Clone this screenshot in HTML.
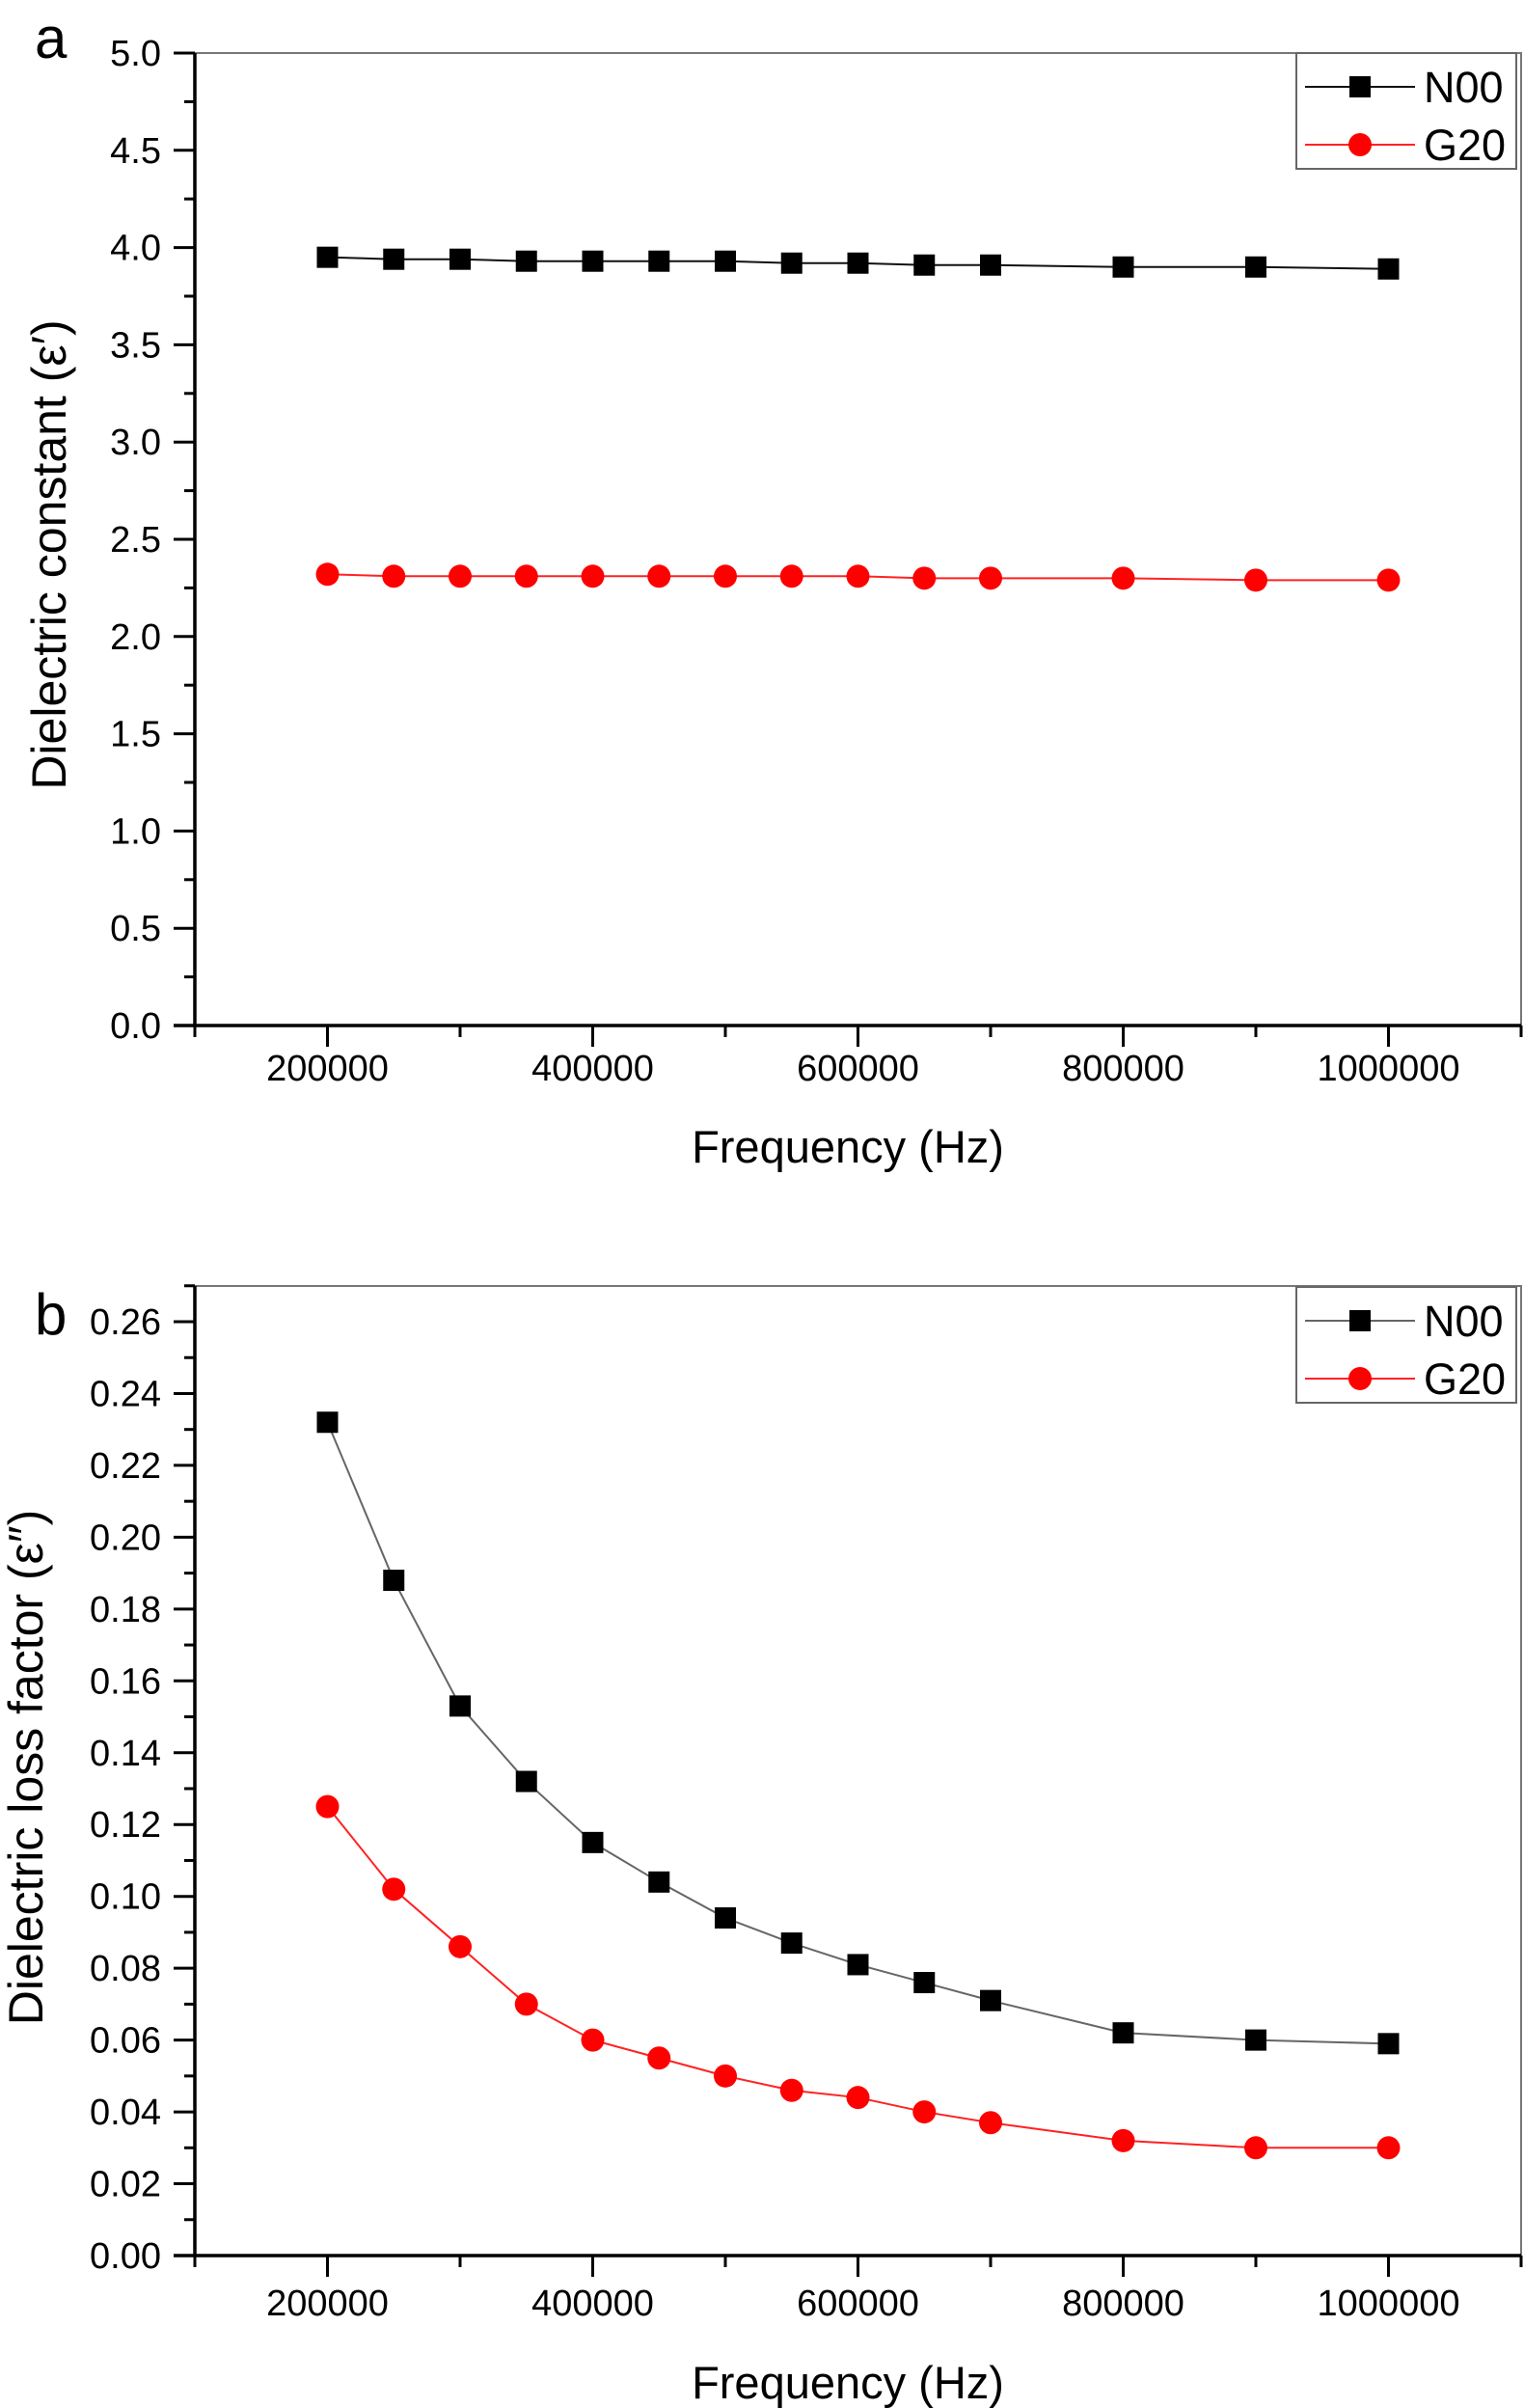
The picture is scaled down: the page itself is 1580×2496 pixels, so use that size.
<!DOCTYPE html>
<html><head><meta charset="utf-8"><style>
html,body{margin:0;padding:0;background:#fff;}
svg{display:block;font-family:"Liberation Sans",Arial,sans-serif;}
</style></head><body>
<svg id="chart" width="1580" height="2496" viewBox="0 0 1580 2496" xmlns="http://www.w3.org/2000/svg"></svg>
<script>
const freqs = [200000,250000,300000,350000,400000,450000,500000,550000,600000,650000,700000,800000,900000,1000000];
const aN00 = [3.95,3.94,3.94,3.93,3.93,3.93,3.93,3.92,3.92,3.91,3.91,3.90,3.90,3.89];
const aG20 = [2.32,2.31,2.31,2.31,2.31,2.31,2.31,2.31,2.31,2.30,2.30,2.30,2.29,2.29];
const bN00 = [0.232,0.188,0.153,0.132,0.115,0.104,0.094,0.087,0.081,0.076,0.071,0.062,0.060,0.059];
const bG20 = [0.125,0.102,0.086,0.070,0.060,0.055,0.050,0.046,0.044,0.040,0.037,0.032,0.030,0.030];
const xTickLabels = ["200000","400000","600000","800000","1000000"];
const aYTicks = ["0.0","0.5","1.0","1.5","2.0","2.5","3.0","3.5","4.0","4.5","5.0"];
const bYTicks = ["0.00","0.02","0.04","0.06","0.08","0.10","0.12","0.14","0.16","0.18","0.20","0.22","0.24","0.26"];

const svg = document.getElementById('chart');
const NS = 'http://www.w3.org/2000/svg';
function mk(tag, attrs, parent){
  const e = document.createElementNS(NS, tag);
  for (const k in attrs) e.setAttribute(k, attrs[k]);
  (parent||svg).appendChild(e);
  return e;
}
function txt(s, attrs, parent){ const t = mk('text', attrs, parent); t.textContent = s; return t; }

function panel(cfg){
  const g = mk('g', {});
  
  
  const L=202, R=1577, T=cfg.top, B=cfg.bottom;
  const xs = v => L + (v - 100000) / 1000000 * (R - L);
  const yS = v => B + (v - cfg.ymin) / (cfg.ymax - cfg.ymin) * (cfg.yTopPx - B);
  const fr = mk('path', {d:`M${L},${T} H${R} V${B}`, fill:'none', stroke:'#777', 'stroke-width':2}, g);
  
  
  const ax = mk('g', {}, g);
  
  
  mk('line', {x1:L, y1:T, x2:L, y2:B, stroke:'#000','stroke-width':3.5}, ax);
  const xa = mk('g', {}, g);
  
  
  mk('line', {x1:L-22, y1:B, x2:R, y2:B, stroke:'#000','stroke-width':3.5}, xa);
  for (let f = 100000; f <= 1100000; f += 100000){
    const major = (f/100000) % 2 === 0;
    mk('line', {x1:xs(f), y1:B, x2:xs(f), y2:B + (major?22:12), stroke:'#000','stroke-width':3}, xa);
  }
  xTickLabels.forEach(s => {
    const t = txt(s, {x:xs(+s), y:cfg.xLabelY, 'text-anchor':'middle','font-size':38}, xa);
    
    
  });
  cfg.yTicks.forEach((s,i) => {
    const y = yS(+s);
    mk('line', {x1:L-22, y1:y, x2:L, y2:y, stroke:'#000','stroke-width':3}, ax);
    const ym = yS(+s + cfg.step/2);
    if (ym >= T - 1) mk('line', {x1:L-11, y1:ym, x2:L, y2:ym, stroke:'#000','stroke-width':3}, ax);
    const t = txt(s, {x:167, y:y+13, 'text-anchor':'end','font-size':38}, ax);
    
    
  });
  const xt = txt('Frequency (Hz)', {x:879, y:cfg.xTitleY, 'text-anchor':'middle','font-size':47}, g);
  
  
  const yt = txt(cfg.yTitle, {x:0, y:0, 'text-anchor':'middle','font-size':50, transform:`translate(${cfg.yTitleX},${cfg.yTitleY}) rotate(-90)`}, g);
  
  
  const lt = txt(cfg.letter, {x:36, y:cfg.letterY, 'font-size':60}, g);
  
  
  const series = [
    {vals:cfg.n00, color:cfg.lineN, mark:'square', name:'N00'},
    {vals:cfg.g20, color:'#f22', mark:'circle', name:'G20'}
  ];
  series.forEach(s => {
    const sg = mk('g', {}, g);
    
    
    const pts = freqs.map((f,i) => [xs(f), yS(s.vals[i])]);
    const pl = mk('polyline', {points: pts.map(p=>p.join(',')).join(' '), fill:'none', stroke:s.color,'stroke-width':2}, sg);
    
    
    pts.forEach(p => {
      let m;
      if (s.mark === 'square') m = mk('rect', {x:p[0]-11, y:p[1]-11, width:22, height:22, fill:'#000'}, sg);
      else m = mk('circle', {cx:p[0], cy:p[1], r:12, fill:'#f00'}, sg);
      
      
    });
  });
  const lg = mk('g', {}, g);
  
  
  const LT = cfg.legTop;
  mk('rect', {x:1344, y:LT, width:228, height:120, fill:'#fff', stroke:'#666','stroke-width':2}, lg);
  const e1 = mk('g', {}, lg);
  
  
  mk('line', {x1:1353, y1:LT+35, x2:1467, y2:LT+35, stroke:cfg.lineN,'stroke-width':2}, e1);
  mk('rect', {x:1399, y:LT+24, width:22, height:22, fill:'#000'}, e1);
  txt('N00', {x:1476, y:LT+51, 'font-size':45}, e1);
  const e2 = mk('g', {}, lg);
  
  
  mk('line', {x1:1353, y1:LT+95, x2:1467, y2:LT+95, stroke:'#f22','stroke-width':2}, e2);
  mk('circle', {cx:1410, cy:LT+95, r:12, fill:'#f00'}, e2);
  txt('G20', {x:1476, y:LT+111, 'font-size':45}, e2);
}

panel({name:'panel-a-dielectric-constant', top:55, bottom:1063, yTopPx:55, ymin:0, ymax:5, step:0.5,
  yTicks:aYTicks, n00:aN00, g20:aG20, lineN:'#111', xLabelY:1120, xTitleY:1205,
  yTitle:'Dielectric constant (ε′)', yTitleX:68, yTitleY:575, letter:'a', letterY:60, legTop:55});
panel({name:'panel-b-dielectric-loss-factor', top:1333, bottom:2338, yTopPx:1370, ymin:0, ymax:0.26, step:0.02,
  yTicks:bYTicks, n00:bN00, g20:bG20, lineN:'#666', xLabelY:2400, xTitleY:2486,
  yTitle:'Dielectric loss factor (ε″)', yTitleX:44, yTitleY:1832, letter:'b', letterY:1383, legTop:1334});
</script>
</body></html>
